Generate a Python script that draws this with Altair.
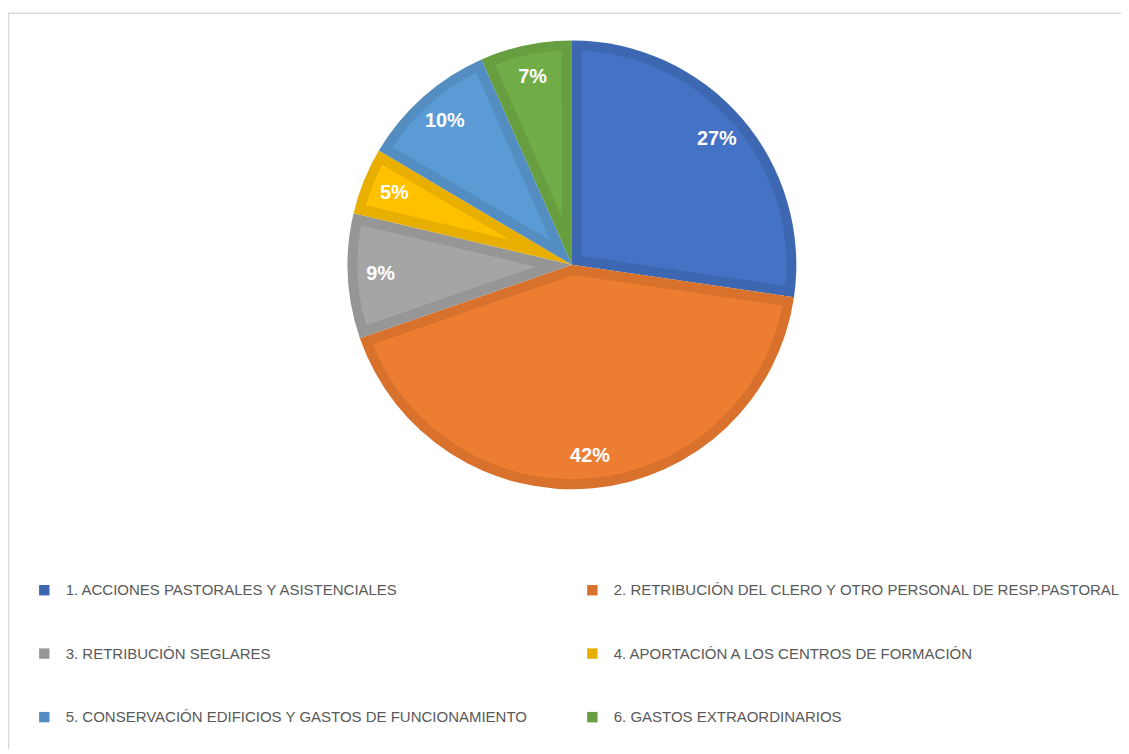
import altair as alt
import pandas as pd

categories = [
    "1. ACCIONES PASTORALES Y ASISTENCIALES",
    "2. RETRIBUCIÓN DEL CLERO Y OTRO PERSONAL DE RESP.PASTORAL",
    "3. RETRIBUCIÓN SEGLARES",
    "4. APORTACIÓN A LOS CENTROS DE FORMACIÓN",
    "5. CONSERVACIÓN EDIFICIOS  Y GASTOS DE FUNCIONAMIENTO",
    "6. GASTOS EXTRAORDINARIOS",
]
values = [27.3, 42.4, 9.0, 4.8, 9.9, 6.6]
fill_colors = ["#4472C4", "#ED7D31", "#A5A5A5", "#FFC000", "#5B9BD5", "#70AD47"]
border_colors = ["#3E67B1", "#D7712C", "#969696", "#E8AE00", "#538DC2", "#669E40"]

df = pd.DataFrame({"category": categories, "value": values, "idx": list(range(len(values)))})

CX, CY = 568, 256
R_OUT = 226
BORDER = 10
R_IN = R_OUT - BORDER
LABEL_R = 193

base = alt.Chart(df).transform_joinaggregate(total="sum(value)")

dark = base.mark_arc(stroke=None).encode(
    x=alt.value(CX), y=alt.value(CY),
    theta=alt.Theta("value:Q", stack=True),
    order=alt.Order("idx:Q"),
    radius=alt.value(R_OUT),
    color=alt.Color(
        "category:N",
        scale=alt.Scale(domain=categories, range=border_colors),
        sort=categories,
        legend=alt.Legend(
            title=None, orient="none", legendX=29, legendY=576,
            direction="horizontal", columns=2,
            symbolType="square", symbolSize=110, symbolStrokeWidth=0,
            labelFont="Liberation Sans", labelFontSize=15.1, labelColor="#595959",
            labelLimit=700, labelOffset=14, rowPadding=48, columnPadding=53,
            padding=0,
        ),
    ),
)

light = base.transform_calculate(
    r1=f"{R_IN}",
    r0=f"{BORDER}/max(0.05, sin(PI*datum.value/datum.total)) + 0.5",
).mark_arc(stroke=None, padAngle=0.093).encode(
    x=alt.value(CX), y=alt.value(CY),
    theta=alt.Theta("value:Q", stack=True),
    order=alt.Order("idx:Q"),
    radius=alt.Radius("r1:Q", scale=None),
    radius2=alt.Radius2("r0:Q"),
    fill=alt.Fill(
        "category:N",
        scale=alt.Scale(domain=categories, range=fill_colors),
        legend=None,
    ),
)

labels = base.transform_calculate(
    pct="datum.value/datum.total"
).mark_text(
    font="Liberation Sans", fontSize=20, fontWeight="bold", color="white",
    align="center", baseline="middle",
).encode(
    x=alt.value(CX), y=alt.value(CY),
    theta=alt.Theta("value:Q", stack=True),
    order=alt.Order("idx:Q"),
    radius=alt.value(LABEL_R),
    text=alt.Text("pct:Q", format=".0%"),
)

frame_df = pd.DataFrame({"a": [0]})
frame_top = alt.Chart(frame_df).mark_rule(color="#D9D9D9", strokeWidth=1.5).encode(
    x=alt.value(0), x2=alt.value(1121), y=alt.value(2.5)
)
frame_left = alt.Chart(frame_df).mark_rule(color="#D9D9D9", strokeWidth=1.5).encode(
    x=alt.value(0.5), y=alt.value(2), y2=alt.value(744)
)

chart = alt.layer(frame_top, frame_left, dark, light, labels).resolve_scale(
    color="independent", fill="independent", theta="shared"
).properties(
    width=1121, height=744, padding=0, autosize="none", background="white"
).configure_view(stroke=None)

chart.save("out.html", embed_options={"renderer": "svg", "actions": False})
